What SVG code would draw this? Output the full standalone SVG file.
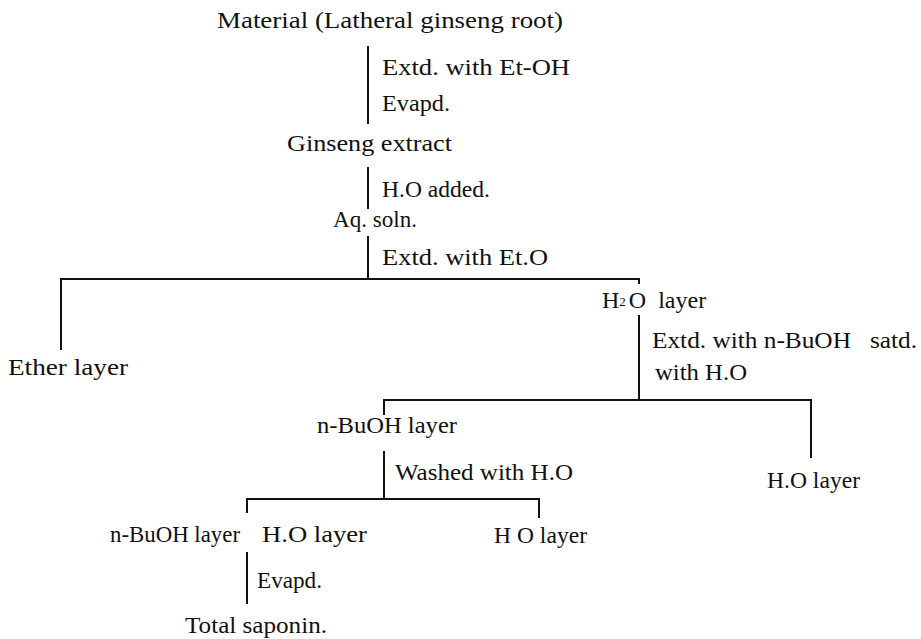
<svg xmlns="http://www.w3.org/2000/svg" width="921" height="639" viewBox="0 0 921 639">
<style>
text{font-family:"Liberation Serif","DejaVu Serif",serif;font-size:24px;fill:#111;}
.ln{stroke:#111;stroke-width:2;fill:none;stroke-linecap:square;}
.sub{font-size:13px;}
</style>
<rect width="921" height="639" fill="#fff"/>
<g id="connectors">
<path class="ln" d="M368 47V123"/>
<path class="ln" d="M368 168V208"/>
<path class="ln" d="M368 237V279M61 349V279H639V283"/>
<path class="ln" d="M639 316V400M384 414V400H811V457"/>
<path class="ln" d="M384 452V499M247 512V499H539V517"/>
<path class="ln" d="M247 553V603"/>
</g>
<g id="step-labels">
<text x="382" y="75" textLength="188" lengthAdjust="spacingAndGlyphs">Extd. with Et-OH</text>
<text x="382" y="111" textLength="68" lengthAdjust="spacingAndGlyphs">Evapd.</text>
<text x="382" y="197" textLength="108" lengthAdjust="spacingAndGlyphs">H.O added.</text>
<text x="382" y="265" textLength="166" lengthAdjust="spacingAndGlyphs">Extd. with Et.O</text>
<text x="652" y="348" textLength="265" lengthAdjust="spacingAndGlyphs">Extd. with n-BuOH&#160;&#160; satd.</text>
<text x="655" y="380" textLength="92" lengthAdjust="spacingAndGlyphs">with H.O</text>
<text x="395" y="480" textLength="178" lengthAdjust="spacingAndGlyphs">Washed with H.O</text>
<text x="257" y="588" textLength="65" lengthAdjust="spacingAndGlyphs">Evapd.</text>
</g>
<g id="material"><text x="217" y="28" textLength="346" lengthAdjust="spacingAndGlyphs">Material (Latheral ginseng root)</text></g>
<g id="ginseng-extract"><text x="287" y="151" textLength="165" lengthAdjust="spacingAndGlyphs">Ginseng extract</text></g>
<g id="aq-soln"><text x="333" y="227" textLength="84" lengthAdjust="spacingAndGlyphs">Aq. soln.</text></g>
<g id="ether-layer"><text x="8" y="375" textLength="120" lengthAdjust="spacingAndGlyphs">Ether layer</text></g>
<g id="h2o-layer-1"><text x="602" y="308">H<tspan class="sub" dy="-2">2</tspan><tspan dy="2" dx="3">O&#160; layer</tspan></text></g>
<g id="nbuoh-layer-1"><text x="317" y="433" textLength="140" lengthAdjust="spacingAndGlyphs">n-BuOH layer</text></g>
<g id="h2o-layer-2"><text x="767" y="488" textLength="93" lengthAdjust="spacingAndGlyphs">H.O layer</text></g>
<g id="nbuoh-layer-2"><text x="110" y="542" textLength="130" lengthAdjust="spacingAndGlyphs">n-BuOH layer</text></g>
<g id="h2o-layer-3"><text x="262" y="542" textLength="105" lengthAdjust="spacingAndGlyphs">H.O layer</text></g>
<g id="h2o-layer-4"><text x="494" y="543" textLength="93" lengthAdjust="spacingAndGlyphs">H O layer</text></g>
<g id="total-saponin"><text x="185" y="633" textLength="142" lengthAdjust="spacingAndGlyphs">Total saponin.</text></g>
</svg>
